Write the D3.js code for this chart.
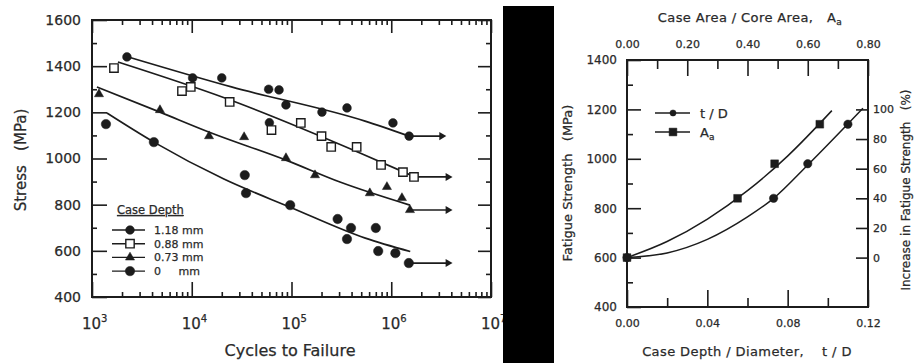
<!DOCTYPE html>
<html>
<head>
<meta charset="utf-8">
<script src="https://cdn.jsdelivr.net/npm/d3@7/dist/d3.min.js"></script>
<style>
  body { margin: 0; background: #fff; }
  svg { display: block; }
  svg text { font-family: "DejaVu Sans", "Liberation Sans", sans-serif; stroke: #2a2a2a; stroke-width: 0.25px; }
</style>
</head>
<body>
<svg id="chart" width="914" height="363"></svg>
<script>
// ---- left panel: S-N curves (cycles, MPa) ----
const depthLabels = ["1.18 mm", "0.88 mm", "0.73 mm", "0     mm"];
const xMajors = [1e3, 1e4, 1e5, 1e6, 1e7];
const xMajorExp = ["3", "4", "5", "6", "7"];
const stressTicks = [400, 600, 800, 1000, 1200, 1400, 1600];

const pts118 = [[2240, 1440], [10200, 1349], [20000, 1349], [59000, 1300], [75000, 1297],
  [60000, 1155], [88000, 1232], [202000, 1201], [360000, 1219], [1040000, 1154], [1510000, 1097]];
const pts088 = [[1660, 1392], [7980, 1292], [9780, 1310], [24000, 1245], [63000, 1123],
  [124000, 1154], [200000, 1097], [250000, 1050], [450000, 1050], [790000, 972], [1310000, 941], [1690000, 920]];
const pts073 = [[1175, 1279], [4800, 1210], [14900, 1097], [33500, 1093], [88000, 1002],
  [172000, 928], [610000, 850], [905000, 877], [1280000, 829], [1540000, 777]];
const pts0 = [[1380, 1149], [4170, 1071], [34000, 928], [35000, 850], [97000, 798],
  [290000, 738], [395000, 699], [360000, 651], [700000, 699], [740000, 599], [1100000, 590], [1500000, 547]];

const fit118 = [[2140, 1444], [25000, 1310], [546000, 1162], [1510000, 1097]];
const fit088 = [[1820, 1418], [21500, 1262], [486000, 1024], [1730000, 920]];
const fit073 = [[1120, 1310], [4800, 1201], [14800, 1115], [88000, 993], [306000, 898], [1540000, 798]];
const fit0 = [[1410, 1197], [4170, 1071], [21000, 911], [97000, 789], [550000, 655], [1550000, 597]];

const run118 = [[1510000, 1097], [3200000, 1097]];
const run088 = [[1690000, 920], [3700000, 920]];
const run073 = [[1540000, 777], [3700000, 777]];
const run0 = [[1500000, 547], [3700000, 547]];

// ---- right panel: fatigue strength vs case depth ----
const tdPts = [[0, 600], [0.073, 840], [0.090, 980], [0.110, 1140]];
const aaPts = [[0, 600], [0.367, 840], [0.49, 980], [0.64, 1140]];
const tdFit = [[0, 600], [0.02, 619], [0.04, 674], [0.06, 765], [0.073, 840], [0.09, 975], [0.1175, 1205]];
const aaFit = [[0, 600], [0.133, 665], [0.267, 756], [0.4, 871], [0.533, 1011], [0.68, 1195]];
const tdTicks = [0, 0.04, 0.08, 0.12];
const aaTicks = [0, 0.2, 0.4, 0.6, 0.8];
const fsTicks = [400, 600, 800, 1000, 1200, 1400];
const pctTicks = [0, 20, 40, 60, 80, 100];

const ink = "#1c1c1c", txt = "#2a2a2a";
const svg = d3.select("#chart");

function styleAxis(g, size) {
  g.select(".domain").remove();
  g.selectAll("line").attr("stroke", ink).attr("stroke-width", 1.6);
  g.selectAll("text").attr("fill", txt).attr("font-size", size);
}

// ================= LEFT =================
const lx = d3.scaleLog().domain([1e3, 1e7]).range([92, 491]);
const ly = d3.scaleLinear().domain([400, 1600]).range([297, 20]);
const isMajor = v => Math.abs(Math.log10(v) - Math.round(Math.log10(v))) < 1e-9;
const xMinor = lx.ticks().filter(v => !isMajor(v));
const yMinor = d3.range(500, 1600, 200);

const L = svg.append("g");
// ticks (inward on all four sides)
L.append("g").attr("transform", `translate(0,${ly(400)})`)
  .call(d3.axisBottom(lx).tickValues(xMajors).tickSize(-15).tickFormat("")).call(styleAxis, 13);
L.append("g").attr("transform", `translate(0,${ly(400)})`)
  .call(d3.axisBottom(lx).tickValues(xMinor).tickSize(-5).tickFormat("")).call(styleAxis, 13);
L.append("g").attr("transform", `translate(0,${ly(1600)})`)
  .call(d3.axisTop(lx).tickValues(xMajors).tickSize(-13).tickFormat("")).call(styleAxis, 13);
L.append("g").attr("transform", `translate(0,${ly(1600)})`)
  .call(d3.axisTop(lx).tickValues(xMinor).tickSize(-5).tickFormat("")).call(styleAxis, 13);
L.append("g").attr("transform", `translate(${lx(1e3)},0)`)
  .call(d3.axisLeft(ly).tickValues(stressTicks).tickSize(-15).tickPadding(11).tickFormat(d3.format("d"))).call(styleAxis, 14);
L.append("g").attr("transform", `translate(${lx(1e3)},0)`)
  .call(d3.axisLeft(ly).tickValues(yMinor).tickSize(-5).tickFormat("")).call(styleAxis, 13);
L.append("g").attr("transform", `translate(${lx(1e7)},0)`)
  .call(d3.axisRight(ly).tickValues(stressTicks).tickSize(-13).tickFormat("")).call(styleAxis, 13);
L.append("g").attr("transform", `translate(${lx(1e7)},0)`)
  .call(d3.axisRight(ly).tickValues(yMinor).tickSize(-5).tickFormat("")).call(styleAxis, 13);

L.append("rect").attr("x", lx(1e3)).attr("y", ly(1600))
  .attr("width", lx(1e7) - lx(1e3)).attr("height", ly(400) - ly(1600))
  .attr("fill", "none").attr("stroke", ink).attr("stroke-width", 2);

// x tick labels 10^n
xMajors.forEach((v, i) => {
  const t = L.append("text").attr("x", lx(v) - 10).attr("y", 329)
    .attr("fill", txt).attr("font-size", 15);
  t.append("tspan").text("10");
  t.append("tspan").attr("dy", -7).attr("font-size", 10).text(xMajorExp[i]);
});

L.append("text").attr("x", 290).attr("y", 356).attr("text-anchor", "middle")
  .attr("font-size", 16).attr("fill", txt).text("Cycles to Failure");
L.append("text").attr("transform", `translate(26,160) rotate(-90)`).attr("text-anchor", "middle")
  .attr("xml:space", "preserve").attr("font-size", 15).attr("fill", txt).text("Stress   (MPa)");

const lineL = d3.line().x(d => lx(d[0])).y(d => ly(d[1])).curve(d3.curveMonotoneX);
[fit118, fit088, fit073, fit0].forEach(f => {
  L.append("path").datum(f).attr("d", lineL).attr("fill", "none")
    .attr("stroke", ink).attr("stroke-width", 1.7);
});
[run118, run088, run073, run0].forEach(r => {
  L.append("path").datum(r).attr("d", d3.line().x(d => lx(d[0])).y(d => ly(d[1])))
    .attr("fill", "none").attr("stroke", ink).attr("stroke-width", 1.7);
  L.append("path").attr("d", d3.symbol(d3.symbolTriangle, 28)())
    .attr("transform", `translate(${lx(r[1][0])},${ly(r[1][1])}) rotate(90)`).attr("fill", ink);
});

const markerDefs = [
  { pts: pts118, sym: d3.symbolCircle, size: 60, open: false },
  { pts: pts088, sym: d3.symbolSquare, size: 70, open: true },
  { pts: pts073, sym: d3.symbolTriangle, size: 36, open: false },
  { pts: pts0, sym: d3.symbolCircle, size: 70, open: false }
];
function drawMarker(g, m, x, y) {
  g.append("path").attr("d", d3.symbol(m.sym, m.size)())
    .attr("transform", `translate(${x},${y})`)
    .attr("fill", m.open ? "#fff" : ink).attr("stroke", ink).attr("stroke-width", m.open ? 1.4 : 0.5);
}
markerDefs.forEach(m => m.pts.forEach(p => drawMarker(L, m, lx(p[0]), ly(p[1]))));

// legend
const lg = L.append("g").attr("font-size", 11).attr("fill", txt);
lg.append("text").attr("x", 117).attr("y", 214).attr("text-decoration", "underline")
  .attr("font-size", 11.5).text("Case Depth");
markerDefs.forEach((m, i) => {
  const y = 230 + i * 13.7;
  lg.append("line").attr("x1", 112).attr("x2", 145).attr("y1", y).attr("y2", y)
    .attr("stroke", ink).attr("stroke-width", 1.4);
  drawMarker(lg, m, 130, y);
  lg.append("text").attr("x", 154).attr("y", y + 4).attr("xml:space", "preserve").text(depthLabels[i]);
});

// black bar (scan artefact between the panels)
svg.append("rect").attr("x", 503).attr("y", 6).attr("width", 51).attr("height", 357).attr("fill", "#000");

// ================= RIGHT =================
const rx = d3.scaleLinear().domain([0, 0.12]).range([627, 868]);
const rxTop = d3.scaleLinear().domain([0, 0.8]).range([627, 868]);
const ry = d3.scaleLinear().domain([400, 1400]).range([307, 60]);
const ryPct = d3.scaleLinear().domain([0, 100]).range([ry(600), ry(1200)]);

const R = svg.append("g");
R.append("g").attr("transform", `translate(0,${ry(400)})`)
  .call(d3.axisBottom(rx).tickValues(tdTicks).tickSize(-17).tickPadding(12).tickFormat(d3.format(".2f"))).call(styleAxis, 11);
R.append("g").attr("transform", `translate(0,${ry(400)})`)
  .call(d3.axisBottom(rx).tickValues([0.02, 0.06, 0.10]).tickSize(-9).tickFormat("")).call(styleAxis, 11);
R.append("g").attr("transform", `translate(0,${ry(1400)})`)
  .call(d3.axisTop(rxTop).tickValues(aaTicks).tickSize(-16).tickPadding(12).tickFormat(d3.format(".2f"))).call(styleAxis, 11);
R.append("g").attr("transform", `translate(0,${ry(1400)})`)
  .call(d3.axisTop(rxTop).tickValues([0.1, 0.3, 0.5, 0.7]).tickSize(-9).tickFormat("")).call(styleAxis, 11);
R.append("g").attr("transform", `translate(${rx(0)},0)`)
  .call(d3.axisLeft(ry).tickValues(fsTicks).tickSize(-14).tickPadding(10).tickFormat(d3.format("d"))).call(styleAxis, 12);
R.append("g").attr("transform", `translate(${rx(0)},0)`)
  .call(d3.axisLeft(ry).tickValues([500, 700, 900, 1100, 1300]).tickSize(-6).tickFormat("")).call(styleAxis, 12);
R.append("g").attr("transform", `translate(${rx(0.12)},0)`)
  .call(d3.axisRight(ryPct).tickValues(pctTicks).tickSize(-12).tickPadding(5).tickFormat(d3.format("d"))).call(styleAxis, 11);

R.append("rect").attr("x", rx(0)).attr("y", ry(1400))
  .attr("width", rx(0.12) - rx(0)).attr("height", ry(400) - ry(1400))
  .attr("fill", "none").attr("stroke", ink).attr("stroke-width", 2);

const topTitle = R.append("text").attr("x", 750).attr("y", 22).attr("text-anchor", "middle")
  .attr("font-size", 13).attr("letter-spacing", 0.4).attr("fill", txt).attr("xml:space", "preserve");
topTitle.append("tspan").text("Case Area / Core Area,   A");
topTitle.append("tspan").attr("dy", 3).attr("font-size", 9).text("a");
R.append("text").attr("x", 747).attr("y", 356).attr("text-anchor", "middle").attr("xml:space", "preserve")
  .attr("font-size", 13).attr("letter-spacing", 0.4).attr("fill", txt).text("Case Depth / Diameter,    t / D");
R.append("text").attr("transform", `translate(572,183) rotate(-90)`).attr("text-anchor", "middle")
  .attr("xml:space", "preserve").attr("font-size", 13).attr("fill", txt).text("Fatigue Strength   (MPa)");
R.append("text").attr("transform", `translate(910,190) rotate(-90)`).attr("text-anchor", "middle")
  .attr("xml:space", "preserve").attr("font-size", 12).attr("fill", txt).text("Increase in Fatigue Strength   (%)");

R.append("path").datum(tdFit).attr("d", d3.line().x(d => rx(d[0])).y(d => ry(d[1])).curve(d3.curveMonotoneX))
  .attr("fill", "none").attr("stroke", ink).attr("stroke-width", 1.5);
R.append("path").datum(aaFit).attr("d", d3.line().x(d => rxTop(d[0])).y(d => ry(d[1])).curve(d3.curveMonotoneX))
  .attr("fill", "none").attr("stroke", ink).attr("stroke-width", 1.5);

const tdMark = { sym: d3.symbolCircle, size: 55, open: false };
const aaMark = { sym: d3.symbolSquare, size: 60, open: false };
tdPts.forEach(p => drawMarker(R, tdMark, rx(p[0]), ry(p[1])));
aaPts.forEach(p => drawMarker(R, aaMark, rxTop(p[0]), ry(p[1])));

const rl = R.append("g").attr("font-size", 13).attr("fill", txt);
[[tdMark, "t / D", 113], [aaMark, "A", 132]].forEach(([m, label, y], i) => {
  rl.append("line").attr("x1", 655).attr("x2", 690).attr("y1", y).attr("y2", y)
    .attr("stroke", ink).attr("stroke-width", 1.4);
  drawMarker(rl, i === 0 ? { sym: d3.symbolCircle, size: 30 } : aaMark, 673, y);
  const t = rl.append("text").attr("x", 700).attr("y", y + 4.5).attr("xml:space", "preserve").text(label);
  if (i === 1) t.append("tspan").attr("dy", 3).attr("font-size", 9).text("a");
});
</script>
</body>
</html>
